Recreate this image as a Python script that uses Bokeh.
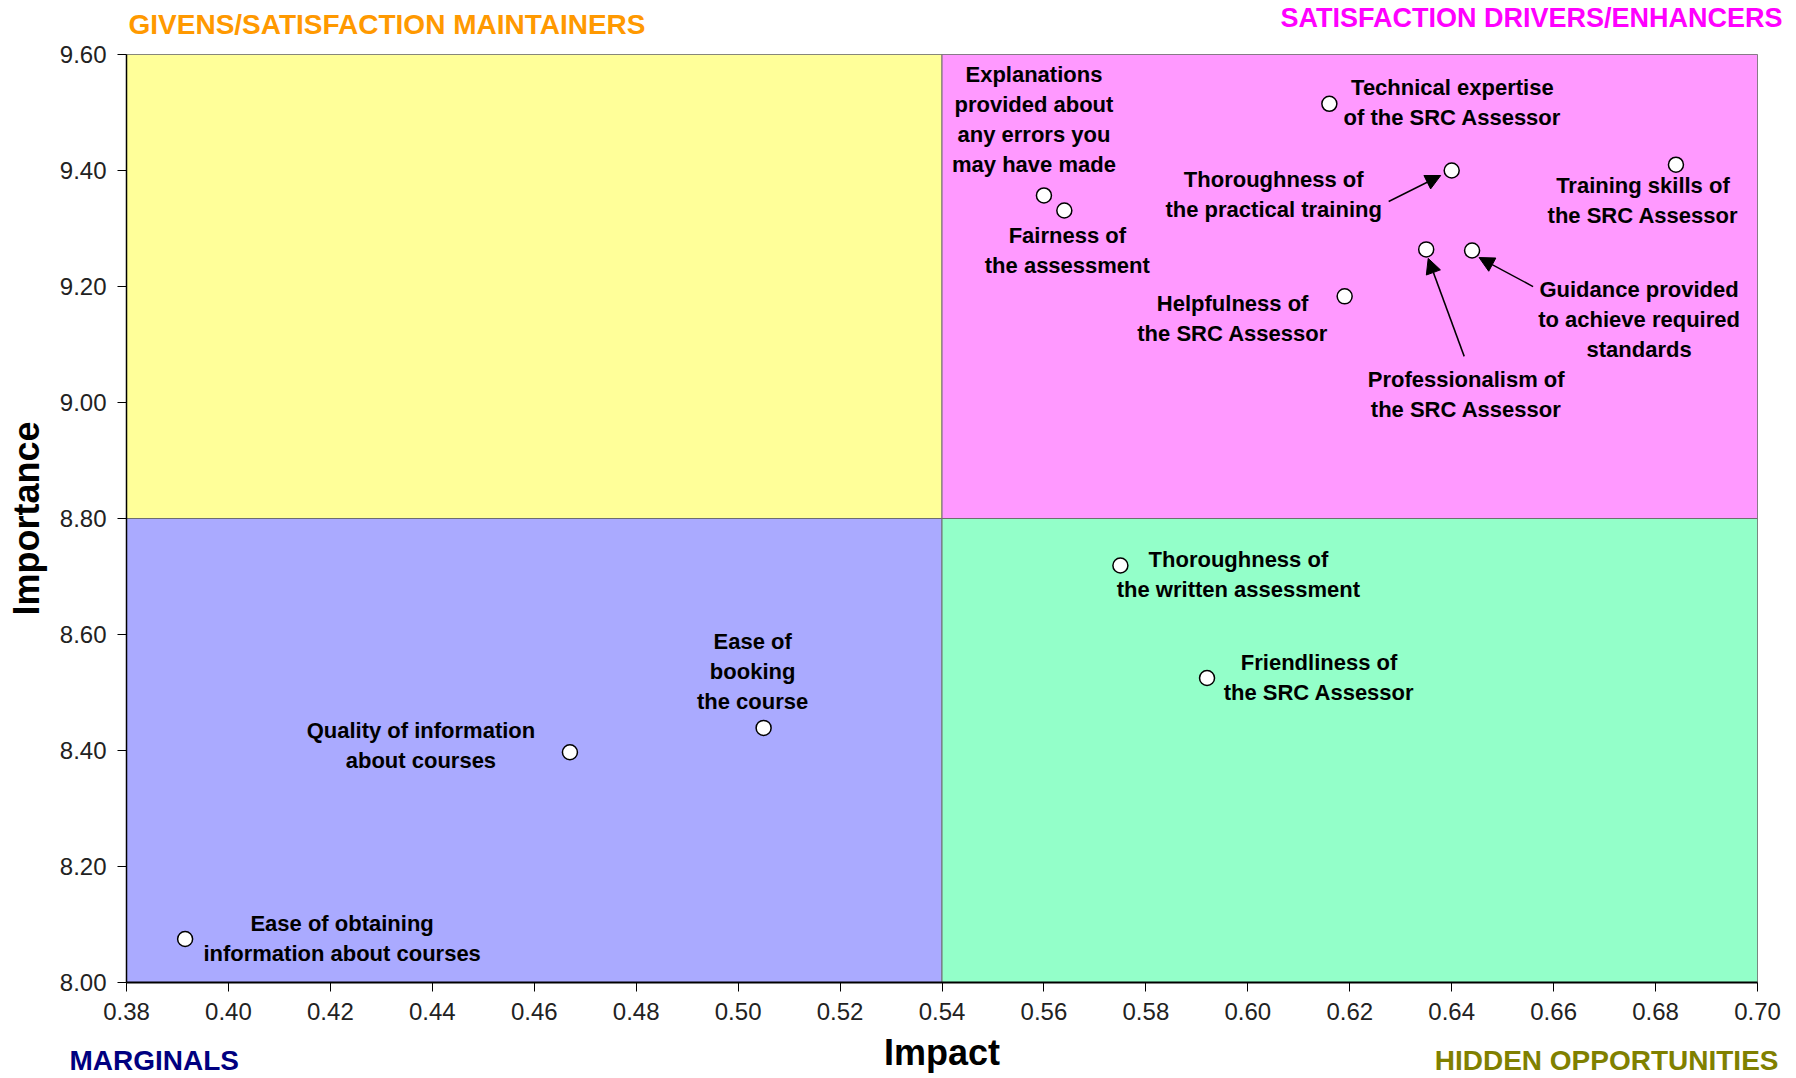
import numpy as np
from bokeh.plotting import figure
from bokeh.layouts import column
from bokeh.models import (Range1d, FixedTicker, NumeralTickFormatter,
                          Arrow, NormalHead, ColumnDataSource)
from bokeh.embed import file_html
from bokeh.resources import INLINE
from bokeh.core.properties import value

# ---------------- data ----------------
attributes = [
    "Explanations\nprovided about\nany errors you\nmay have made",
    "Fairness of\nthe assessment",
    "Technical expertise\nof the SRC Assessor",
    "Thoroughness of\nthe practical training",
    "Training skills of\nthe SRC Assessor",
    "Professionalism of\nthe SRC Assessor",
    "Guidance provided\nto achieve required\nstandards",
    "Helpfulness of\nthe SRC Assessor",
    "Thoroughness of\nthe written assessment",
    "Friendliness of\nthe SRC Assessor",
    "Ease of\nbooking\nthe course",
    "Quality of information\nabout courses",
    "Ease of obtaining\ninformation about courses",
]
impact = [0.560, 0.564, 0.616, 0.640, 0.684, 0.635, 0.644, 0.619, 0.575, 0.592, 0.505, 0.467, 0.3915]
importance = [9.357, 9.331, 9.515, 9.400, 9.410, 9.264, 9.262, 9.183, 8.719, 8.525, 8.439, 8.397, 8.075]

x_ticks = [0.38, 0.40, 0.42, 0.44, 0.46, 0.48, 0.50, 0.52, 0.54, 0.56, 0.58, 0.60, 0.62, 0.64, 0.66, 0.68, 0.70]
y_ticks = [8.00, 8.20, 8.40, 8.60, 8.80, 9.00, 9.20, 9.40, 9.60]

x_min, x_mid, x_max = 0.38, 0.54, 0.70
y_min, y_mid, y_max = 8.00, 8.80, 9.60

x_title = "Impact"
y_title = "Importance"
top_titles = ["GIVENS/SATISFACTION MAINTAINERS", "SATISFACTION DRIVERS/ENHANCERS"]
bottom_titles = ["MARGINALS", "HIDDEN OPPORTUNITIES"]

# ---------------- layout / style ----------------
label_dx = [-10, 3, 123, -178, -33, 40, 167, -112, 118, 112, -11, -149, 157]
label_dy = [-76, 40, -1, 24, 36, 145, 69, 22, 9, -1, -56, -7, -1]

quad_fill = ["#FFFF99", "#FF99FF", "#AAAAFF", "#93FFC9"]
top_colors = ["#FF9900", "#FF00FF"]
bottom_colors = ["#000080", "#808000"]

W = 1796
TOP_H, BOT_H = 40, 44
BL, BR, BT, BB = 126, 39, 14, 50
FW, FH = W - BL - BR, 928
MAIN_H = BT + FH + BB
px_x = FW / (x_max - x_min)
px_y = FH / (y_max - y_min)

# strip text anchors in strip pixels (x from left, y from strip top)
top_pos_x, top_pos_y, top_align, top_size = [128, 1280], [24, 17], ["left", "left"], ["28px", "27px"]
bot_pos_x, bot_pos_y, bot_align = [69, W - 18], [28, 28], ["left", "right"]
xt_pos = (BL + FW / 2, 20)


def no_align(f):
    try:
        f.frame_align = False
    except Exception:
        pass


def strip(h):
    s = figure(width=W, height=h, x_range=Range1d(0, W), y_range=Range1d(h, 0),
               output_backend="svg", toolbar_location=None,
               x_axis_location=None, y_axis_location=None,
               min_border=0, min_border_left=0, min_border_right=0,
               min_border_top=0, min_border_bottom=0)
    s.outline_line_color = None
    s.grid.visible = False
    s.background_fill_color = "white"
    s.border_fill_color = "white"
    no_align(s)
    return s


top = strip(TOP_H)
top.text(x=top_pos_x, y=top_pos_y, text=top_titles, text_color=top_colors, text_align=top_align,
         text_font_size=top_size, text_baseline="middle", text_font=value("Liberation Sans"),
         text_font_style="bold")

fig = figure(width=W, height=MAIN_H, x_range=Range1d(x_min, x_max), y_range=Range1d(y_min, y_max),
             output_backend="svg", toolbar_location=None,
             min_border_left=BL, min_border_right=BR, min_border_top=BT, min_border_bottom=BB)
fig.background_fill_color = "white"
fig.border_fill_color = "white"
fig.outline_line_color = "#808080"
fig.outline_line_width = 1
fig.grid.visible = False
no_align(fig)

# quadrants
fig.quad(left=[x_min, x_mid, x_min, x_mid], right=[x_mid, x_max, x_mid, x_max],
         bottom=[y_mid, y_mid, y_min, y_min], top=[y_max, y_max, y_mid, y_mid],
         fill_color=quad_fill, line_color="#6e6e6e", line_width=1)

# arrows (tail/tip offsets in px from the point)
arrow_specs = [(3, (-63, 31), (-11, 5)), (5, (38, 107), (2, 9)), (6, (61, 36), (7, 7))]
for idx, (tx, ty), (hx, hy) in arrow_specs:
    x0, y0 = impact[idx], importance[idx]
    fig.add_layout(Arrow(end=NormalHead(size=15, fill_color="black", line_color="black"),
                         x_start=x0 + tx / px_x, y_start=y0 - ty / px_y,
                         x_end=x0 + hx / px_x, y_end=y0 - hy / px_y,
                         line_color="black", line_width=1.5))

# points
fig.scatter(impact, importance, size=15, fill_color="white", line_color="black", line_width=1.5)

# labels
src = ColumnDataSource(dict(x=impact, y=importance, t=attributes, dx=label_dx, dy=label_dy))
fig.text(x="x", y="y", text="t", x_offset="dx", y_offset="dy", source=src,
         text_font=value("Liberation Sans"), text_font_style="bold", text_font_size="22px",
         text_color="black", text_align="center", text_baseline="middle", text_line_height=1.2)

# axes
for ax, ticks in ((fig.xaxis, x_ticks), (fig.yaxis, y_ticks)):
    ax.ticker = FixedTicker(ticks=ticks)
    ax.formatter = NumeralTickFormatter(format="0.00")
    ax.minor_tick_line_color = None
    ax.major_tick_in = 0
    ax.major_tick_out = 9
    ax.axis_line_color = "black"
    ax.major_tick_line_color = "black"
    ax.major_label_text_font = "Liberation Sans"
    ax.major_label_text_font_size = "24px"
    ax.major_label_text_color = "#222222"
fig.xaxis.axis_line_width = 2
fig.yaxis.axis_line_width = 1.5
fig.xaxis.major_label_standoff = 11
fig.yaxis.major_label_standoff = 11
fig.yaxis.axis_label = y_title
fig.yaxis.axis_label_text_font = "Liberation Sans"
fig.yaxis.axis_label_text_font_style = "bold"
fig.yaxis.axis_label_text_font_size = "36px"
fig.yaxis.axis_label_text_color = "black"
fig.yaxis.axis_label_standoff = 10

bottom = strip(BOT_H)
bottom.text(x=bot_pos_x, y=bot_pos_y, text=bottom_titles, text_color=bottom_colors,
            text_align=bot_align, text_baseline="middle", text_font=value("Liberation Sans"),
            text_font_style="bold", text_font_size="28px")
bottom.text(x=[xt_pos[0]], y=[xt_pos[1]], text=[x_title], text_color="black", text_align="center",
            text_baseline="middle", text_font=value("Liberation Sans"), text_font_style="bold",
            text_font_size="36px")

p = column(top, fig, bottom, spacing=0)
open("out.html", "w").write(file_html(p, INLINE))
